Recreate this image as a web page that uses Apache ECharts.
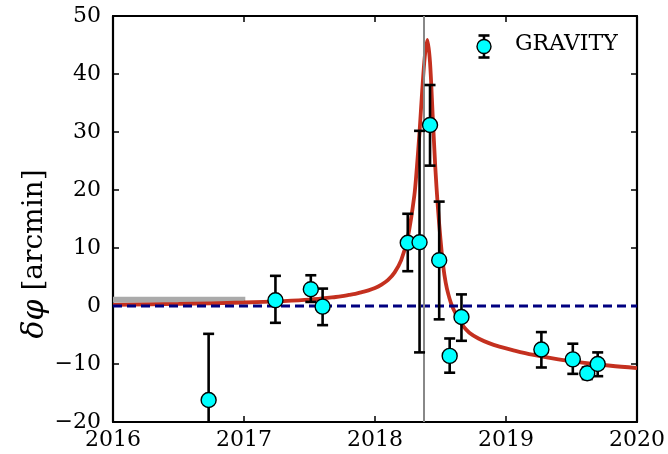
<!DOCTYPE html>
<html>
<head>
<meta charset="utf-8">
<script src="https://cdn.jsdelivr.net/npm/echarts@6/dist/echarts.min.js"></script>
<style>
  html, body { margin: 0; padding: 0; background: #fff; }
  #chart { width: 668px; height: 454px; }
</style>
</head>
<body>
<div id="chart"></div>
<script>
// GRAVITY measurements: epoch, offset and asymmetric error bars [arcmin]
const obsYears = [2016.73, 2017.24, 2017.51, 2017.60, 2018.25, 2018.34, 2018.42, 2018.49, 2018.57, 2018.66, 2019.27, 2019.51, 2019.62, 2019.70];
const obsValues = [-16.2, 1.0, 2.9, -0.1, 10.9, 11.0, 31.2, 7.9, -8.6, -1.9, -7.5, -9.2, -11.6, -10.0];
const obsLow = [-27.6, -2.9, 0.7, -3.3, 6.0, -8.0, 24.2, -2.3, -11.5, -6.0, -10.6, -11.7, -12.6, -12.1];
const obsHigh = [-4.8, 5.2, 5.3, 3.0, 15.9, 30.2, 38.1, 18.0, -5.6, 2.0, -4.5, -6.5, -10.6, -8.0];

// model curve around pericentre passage
const modelYears = [
  2016.00, 2016.50, 2017.00, 2017.30, 2017.50, 2017.70, 2017.75, 2017.80, 2017.85, 2017.90,
  2017.95, 2018.00, 2018.05, 2018.10, 2018.15, 2018.20, 2018.25, 2018.30, 2018.32, 2018.34,
  2018.36, 2018.38, 2018.40, 2018.42, 2018.44, 2018.46, 2018.48, 2018.50, 2018.52, 2018.54,
  2018.56, 2018.58, 2018.60, 2018.63, 2018.67, 2018.72, 2018.79, 2018.87, 2018.95, 2019.05,
  2019.20, 2019.40, 2019.60, 2019.80, 2020.00
];
const modelValues = [
  0.2, 0.35, 0.6, 0.85, 1.1, 1.55, 1.7, 1.9, 2.1, 2.4,
  2.7, 3.1, 3.7, 4.5, 5.8, 7.9, 11.8, 19.0, 24.0, 30.0,
  37.0, 43.0, 45.9, 42.0, 33.0, 24.0, 17.0, 11.5, 7.0, 4.0,
  2.0, 0.5, -0.6, -1.9, -3.4, -4.6, -5.6, -6.4, -7.0, -7.6,
  -8.4, -9.2, -9.8, -10.3, -10.7
];

// pericentre epoch and early reference band
const pericentreYear = 2018.373;
const bandYears = [2016.0, 2017.01];
const bandValues = [0.55, 1.6];

const xMin = 2016, xMax = 2020, xStep = 1;
const yMin = -20, yMax = 50, yStep = 10;

const FONT = 'DejaVu Serif';
const fmt = v => (v < 0 ? '\u2212' + Math.abs(v) : String(v));

const chart = echarts.init(document.getElementById('chart'), null, { renderer: 'canvas' });

const tickStyle = { inside: true, length: 6, lineStyle: { color: '#000', width: 1.5 } };
const lineStyleAxis = { show: true, onZero: false, lineStyle: { color: '#000', width: 2.2 } };

const obsData = obsYears.map((x, i) => [x, obsValues[i], obsLow[i], obsHigh[i]]);
const modelData = modelYears.map((x, i) => [x, modelValues[i]]);

function renderErrorBar(params, api) {
  const x = api.value(0);
  const lo = api.value(2);
  const hi = api.value(3);
  const loC = Math.max(lo, yMin);
  const pTop = api.coord([x, hi]);
  const pBot = api.coord([x, loC]);
  const cap = 5.5;
  const st = { stroke: '#000', lineWidth: 2.6 };
  const children = [
    { type: 'line', shape: { x1: pTop[0], y1: pTop[1], x2: pBot[0], y2: pBot[1] }, style: st },
    { type: 'line', shape: { x1: pTop[0] - cap, y1: pTop[1], x2: pTop[0] + cap, y2: pTop[1] }, style: st }
  ];
  if (lo >= yMin) {
    children.push({ type: 'line', shape: { x1: pBot[0] - cap, y1: pBot[1], x2: pBot[0] + cap, y2: pBot[1] }, style: st });
  }
  return { type: 'group', children };
}

chart.setOption({
  animation: false,
  backgroundColor: '#fff',
  grid: { left: 113, right: 29, top: 16, bottom: 32, containLabel: false },
  xAxis: [
    {
      type: 'value', min: xMin, max: xMax, interval: xStep,
      axisLine: lineStyleAxis, axisTick: tickStyle, splitLine: { show: false },
      axisLabel: { color: '#000', fontFamily: FONT, fontSize: 22, margin: 7, formatter: v => String(v) }
    },
    {
      type: 'value', position: 'top', min: xMin, max: xMax, interval: xStep,
      axisLine: lineStyleAxis, axisTick: tickStyle, splitLine: { show: false },
      axisLabel: { show: false }
    }
  ],
  yAxis: [
    {
      type: 'value', min: yMin, max: yMax, interval: yStep,
      axisLine: lineStyleAxis, axisTick: tickStyle, splitLine: { show: false },
      axisLabel: { color: '#000', fontFamily: FONT, fontSize: 22, margin: 12, formatter: fmt }
    },
    {
      type: 'value', position: 'right', min: yMin, max: yMax, interval: yStep,
      axisLine: lineStyleAxis, axisTick: tickStyle, splitLine: { show: false },
      axisLabel: { show: false }
    }
  ],
  series: [
    {
      // early reference band and pericentre epoch
      type: 'line', data: [], silent: true, z: 1,
      markArea: {
        silent: true,
        itemStyle: { color: '#aaaaaa' },
        data: [[{ coord: [bandYears[0], bandValues[0]] }, { coord: [bandYears[1], bandValues[1]] }]]
      },
      markLine: {
        silent: true, symbol: 'none', label: { show: false },
        lineStyle: { color: '#888888', width: 2, type: 'solid' },
        data: [{ xAxis: pericentreYear }]
      }
    },
    {
      name: 'model', type: 'line', data: modelData, z: 3,
      showSymbol: false, smooth: 0.3,
      lineStyle: { color: '#c4301f', width: 3.8 }
    },
    {
      name: 'zero', type: 'line', data: [[xMin, 0], [xMax, 0]], z: 4,
      showSymbol: false,
      lineStyle: { color: '#000080', width: 2.8, type: [9, 5] }
    },
    {
      name: 'errors', type: 'custom', data: obsData, z: 5,
      renderItem: renderErrorBar,
      encode: { x: 0, y: [1, 2, 3] }
    },
    {
      name: 'GRAVITY', type: 'scatter', data: obsData.map(d => [d[0], d[1]]), z: 6,
      symbol: 'circle', symbolSize: 15,
      itemStyle: { color: '#00ffff', borderColor: '#000', borderWidth: 1.4, opacity: 1 }
    }
  ],
  graphic: [
    {
      // legend entry
      type: 'group', left: 476, top: 33, z: 10,
      children: [
        { type: 'line', shape: { x1: 7, y1: 0, x2: 7, y2: 22 }, style: { stroke: '#000', lineWidth: 2.6 } },
        { type: 'line', shape: { x1: 1.5, y1: 0, x2: 12.5, y2: 0 }, style: { stroke: '#000', lineWidth: 2.6 } },
        { type: 'line', shape: { x1: 1.5, y1: 22, x2: 12.5, y2: 22 }, style: { stroke: '#000', lineWidth: 2.6 } },
        { type: 'circle', shape: { cx: 7, cy: 11, r: 7 }, style: { fill: '#00ffff', stroke: '#000', lineWidth: 1.4 } }
      ]
    },
    {
      type: 'text', x: 515, y: 44, z: 10,
      style: { text: 'GRAVITY', fontFamily: FONT, fontSize: 22, fill: '#000', verticalAlign: 'middle', align: 'left' }
    },
    {
      type: 'text', x: 35, y: 254, rotation: Math.PI / 2, z: 10,
      style: {
        text: '{i|δφ} [arcmin]',
        fontFamily: FONT, fontSize: 28, fill: '#000', align: 'center', verticalAlign: 'middle',
        rich: { i: { fontFamily: FONT, fontStyle: 'italic', fontSize: 30, fill: '#000' } }
      }
    }
  ]
});
</script>
</body>
</html>
